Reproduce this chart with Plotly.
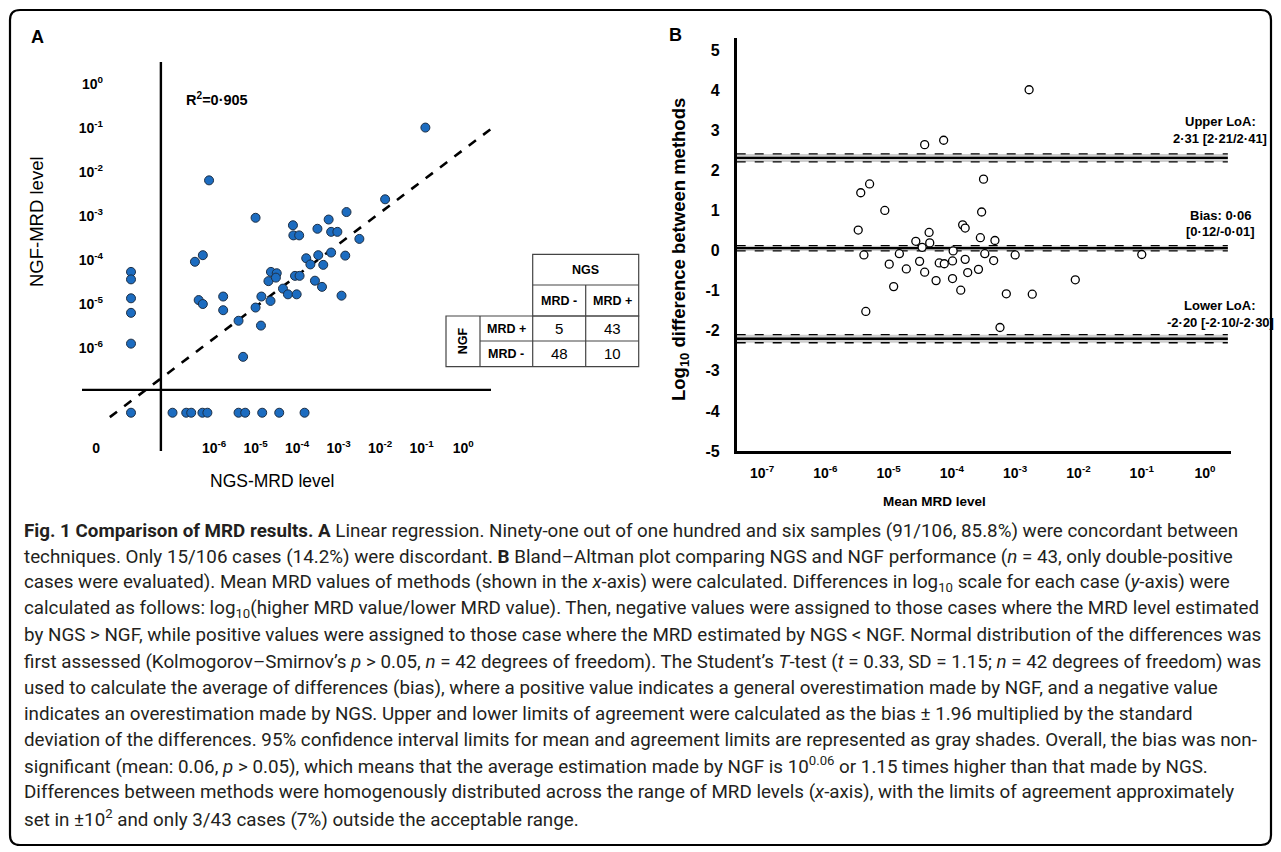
import plotly.graph_objects as go

# The captured picture is squeezed vertically (~0.9895); the figure is made a little
# taller so that, once squeezed, it lands on the 1281x852 layout of the reference.
W = 1281
SY = 852 / 861
H = 861

# ---------------- Panel A data (log10 MRD level; None = MRD negative, plotted in the "0" lane)
A_ngs_log = [-6.12, -5.00, -4.10, -4.09, -3.95, -3.51, -3.24, -3.18, -3.03, -0.91,
             -1.88, -2.81, -2.50, -6.46, -6.27, -6.37, -6.27, -5.78, -5.78, -5.41,
             -5.30, -5.00, -4.87, -4.86, -4.64, -4.69, -4.63, -4.49, -4.51, -4.34,
             -4.22, -4.01, -4.05, -3.94, -3.78, -3.68, -3.49, -3.57, -3.40, -3.37,
             -3.18, -2.84, -2.93,
             None, None, None, None, None,
             -7.00, -6.67, -6.55, -6.28, -6.16, -5.41, -5.25, -4.84, -4.43, -3.82,
             None]
A_ngf_log = [-2.19, -3.04, -3.21, -3.44, -3.44, -3.29, -3.08, -3.36, -3.36, -0.99,
             -2.62, -2.91, -3.52, -4.04, -3.89, -4.91, -5.00, -4.83, -5.14, -5.38,
             -6.20, -5.08, -5.49, -4.83, -4.93, -4.48, -4.27, -4.30, -4.40, -4.65,
             -4.78, -4.78, -4.36, -4.36, -3.96, -4.10, -3.89, -4.47, -4.61, -4.11,
             -3.83, -3.90, -4.81,
             -4.27, -4.44, -4.87, -5.20, -5.90,
             None, None, None, None, None, None, None, None, None, None,
             None]
A_fit_x = [-8.51, 0.67]
A_fit_y = [-7.57, -1.02]
A_r2 = "0·905"
A_x_tick_exps = [None, -6, -5, -4, -3, -2, -1, 0]
A_y_tick_exps = [0, -1, -2, -3, -4, -5, -6]
A_zero_lane_x = -8.0        # where NGS-negative samples sit
A_zero_lane_y = -7.47       # where NGF-negative samples sit
A_zero_label_x = -8.84
A_axis_cross_x = -7.28
A_axis_cross_y = -6.95

table_col_labels = ["MRD -", "MRD +"]
table_row_labels = ["MRD +", "MRD -"]
table_counts = [[5, 43], [48, 10]]

# ---------------- Panel B data (Bland-Altman)
B_mean_log = [-4.43, -4.13, -2.78, -5.44, -5.30, -5.06, -3.50, -3.53, -5.48, -4.36,
              -3.83, -3.79, -3.55, -3.32, -5.39, -4.57, -4.47, -4.35, -4.83, -4.99,
              -4.72, -4.51, -4.43, -4.92, -4.25, -4.20, -4.12, -3.99, -3.98, -3.99,
              -3.86, -5.36, -3.48, -3.00, -1.00, -3.79, -3.34, -3.58, -3.75, -3.14,
              -2.73, -2.05, -3.24]
B_diff = [2.64, 2.75, 4.01, 1.44, 1.66, 1.00, 1.78, 0.96, 0.51, 0.45,
          0.64, 0.56, 0.32, 0.25, -0.11, 0.23, 0.08, 0.19, -0.08, -0.34,
          -0.46, -0.27, -0.54, -0.90, -0.75, -0.31, -0.33, -0.26, -0.01, -0.70,
          -0.99, -1.52, -0.08, -0.11, -0.10, -0.22, -0.25, -0.47, -0.55, -1.08,
          -1.09, -0.73, -1.92]
B_lines = ["Upper LoA", "Bias", "Lower LoA"]
B_est = [2.31, 0.06, -2.20]
B_ci_a = [2.41, 0.12, -2.10]
B_ci_b = [2.21, -0.01, -2.30]
B_label_l1 = ["Upper LoA:", "Bias: 0·06", "Lower LoA:"]
B_label_l2 = ["2·31 [2·21/2·41]", "[0·12/-0·01]", "-2·20 [-2·10/-2·30]"]
B_x_tick_exps = [-7, -6, -5, -4, -3, -2, -1, 0]
B_y_ticks = [5, 4, 3, 2, 1, 0, -1, -2, -3, -4, -5]
B_line_x = [-7.40, 0.36]

caption_lines = [
    "<b>Fig. 1 Comparison of MRD results. A</b> Linear regression. Ninety-one out of one hundred and six samples (91/106, 85.8%) were concordant between",
    "techniques. Only 15/106 cases (14.2%) were discordant. <b>B</b> Bland–Altman plot comparing NGS and NGF performance (<i>n</i> = 43, only double-positive",
    "cases were evaluated). Mean MRD values of methods (shown in the <i>x</i>-axis) were calculated. Differences in log<sub>10</sub> scale for each case (<i>y</i>-axis) were",
    "calculated as follows: log<sub>10</sub>(higher MRD value/lower MRD value). Then, negative values were assigned to those cases where the MRD level estimated",
    "by NGS &gt; NGF, while positive values were assigned to those case where the MRD estimated by NGS &lt; NGF. Normal distribution of the differences was",
    "first assessed (Kolmogorov–Smirnov’s <i>p</i> &gt; 0.05, <i>n</i> = 42 degrees of freedom). The Student’s <i>T</i>-test (<i>t</i> = 0.33, SD = 1.15; <i>n</i> = 42 degrees of freedom) was",
    "used to calculate the average of differences (bias), where a positive value indicates a general overestimation made by NGF, and a negative value",
    "indicates an overestimation made by NGS. Upper and lower limits of agreement were calculated as the bias ± 1.96 multiplied by the standard",
    "deviation of the differences. 95% confidence interval limits for mean and agreement limits are represented as gray shades. Overall, the bias was non-",
    "significant (mean: 0.06, <i>p</i> &gt; 0.05), which means that the average estimation made by NGF is 10<sup>0.06</sup> or 1.15 times higher than that made by NGS.",
    "Differences between methods were homogenously distributed across the range of MRD levels (<i>x</i>-axis), with the limits of agreement approximately",
    "set in ±10<sup>2</sup> and only 3/43 cases (7%) outside the acceptable range.",
]

FONT = "Liberation Sans, Arial, sans-serif"
CAP_FONT = "Roboto, Lato, sans-serif"


def pxx(x):
    return x / W


def pyy(y):
    return 1 - (y / SY) / H


def sup_label(e):
    if e is None:
        return "<b>0</b>"
    return "<b>10<sup>%d</sup></b>" % e


fig = go.Figure()

# ---------- Panel A
ax = [A_zero_lane_x if v is None else v for v in A_ngs_log]
ay = [A_zero_lane_y if v is None else v for v in A_ngf_log]
fig.add_trace(go.Scatter(x=A_fit_x, y=A_fit_y, mode="lines", xaxis="x", yaxis="y",
                         line=dict(color="black", width=2.6, dash="dash"), hoverinfo="skip"))
fig.add_trace(go.Scatter(x=ax, y=ay, mode="markers", xaxis="x", yaxis="y",
                         marker=dict(size=9, color="#1c6cc0", line=dict(color="#1d2f45", width=1))))

# ---------- Panel B
for est, ca, cb in zip(B_est, B_ci_a, B_ci_b):
    lo, hi = min(ca, cb), max(ca, cb)
    fig.add_trace(go.Scatter(x=B_line_x + B_line_x[::-1], y=[lo, lo, hi, hi], fill="toself",
                             fillcolor="#cfcfcf", line=dict(width=0), mode="lines",
                             xaxis="x2", yaxis="y2", hoverinfo="skip"))
    for v in (ca, cb):
        fig.add_trace(go.Scatter(x=B_line_x, y=[v, v], mode="lines", xaxis="x2", yaxis="y2",
                                 line=dict(color="black", width=1.3, dash="dash"), hoverinfo="skip"))
    fig.add_trace(go.Scatter(x=B_line_x, y=[est, est], mode="lines", xaxis="x2", yaxis="y2",
                             line=dict(color="black", width=2.4), hoverinfo="skip"))
fig.add_trace(go.Scatter(x=B_mean_log, y=B_diff, mode="markers", xaxis="x2", yaxis="y2",
                         marker=dict(size=8, color="white", line=dict(color="black", width=1.3))))

fig.update_layout(
    width=W, height=H, margin=dict(l=0, r=0, t=0, b=0),
    paper_bgcolor="white", plot_bgcolor="rgba(0,0,0,0)", showlegend=False,
    font=dict(family=FONT, color="black"),
    xaxis=dict(domain=[pxx(82), pxx(491)], range=[-9.18, 0.67], anchor="free",
               position=pyy(438),
               showgrid=False, zeroline=False, showline=False, ticks="",
               tickvals=[A_zero_label_x if e is None else e for e in A_x_tick_exps],
               ticktext=[sup_label(e) for e in A_x_tick_exps],
               ticklabelstandoff=0, tickfont=dict(size=14, family=FONT)),
    yaxis=dict(domain=[pyy(451), pyy(62)], range=[-8.34, 0.5], anchor="free",
               position=pxx(103),
               showgrid=False, zeroline=False, showline=False, ticks="",
               tickvals=A_y_tick_exps, ticktext=[sup_label(e) for e in A_y_tick_exps],
               ticklabelstandoff=0, tickfont=dict(size=14, family=FONT)),
    xaxis2=dict(domain=[pxx(736.7), pxx(1231)], range=[-7.40, 0.41], anchor="y2",
                showgrid=False, zeroline=False, showline=True, linecolor="black", linewidth=2.5,
                ticks="", tickvals=B_x_tick_exps, ticktext=[sup_label(e) for e in B_x_tick_exps],
                ticklabelstandoff=7, tickfont=dict(size=14, family=FONT)),
    yaxis2=dict(domain=[pyy(451), pyy(38)], range=[-5, 5.3], anchor="x2",
                showgrid=False, zeroline=False, showline=True, linecolor="black", linewidth=2.5,
                ticks="", tickvals=B_y_ticks, ticktext=["<b>%d</b>" % v for v in B_y_ticks],
                ticklabelstandoff=11, tickfont=dict(size=16, family=FONT)),
)

shapes = []
# Panel A crossing axes
shapes.append(dict(type="line", xref="x", yref="y", x0=A_axis_cross_x, x1=A_axis_cross_x,
                   y0=-8.34, y1=0.5, line=dict(color="black", width=2.4)))
shapes.append(dict(type="line", xref="x", yref="y", x0=-9.18, x1=0.67,
                   y0=A_axis_cross_y, y1=A_axis_cross_y, line=dict(color="black", width=2.4)))

# Contingency table (pixel layout)
tc = "#444444"
def rect(x0, y0, x1, y1):
    return dict(type="rect", xref="paper", yref="paper", x0=pxx(x0), x1=pxx(x1),
                y0=pyy(y1), y1=pyy(y0), line=dict(color=tc, width=1.2))
def hline(x0, x1, y):
    return dict(type="line", xref="paper", yref="paper", x0=pxx(x0), x1=pxx(x1),
                y0=pyy(y), y1=pyy(y), line=dict(color=tc, width=1.2))
def vline(x, y0, y1):
    return dict(type="line", xref="paper", yref="paper", x0=pxx(x), x1=pxx(x),
                y0=pyy(y0), y1=pyy(y1), line=dict(color=tc, width=1.2))

tx = [446, 480, 532.7, 585.7, 638.7]
ty = [254.3, 285, 316, 341, 366.7]
shapes.append(rect(tx[2], ty[0], tx[4], ty[2]))
shapes.append(hline(tx[2], tx[4], ty[1]))
shapes.append(vline(tx[3], ty[1], ty[2]))
shapes.append(rect(tx[0], ty[2], tx[4], ty[4]))
shapes.append(vline(tx[1], ty[2], ty[4]))
shapes.append(vline(tx[2], ty[2], ty[4]))
shapes.append(vline(tx[3], ty[2], ty[4]))
shapes.append(hline(tx[1], tx[4], ty[3]))

# Outer rounded frame
x0, y0, x1, y1, r = 10, 10, 1271, 845, 10
X0, X1, Y0, Y1 = pxx(x0), pxx(x1), pyy(y0), pyy(y1)
rx, ry = r / W, (r / SY) / H
path = (f"M {X0+rx},{Y0} L {X1-rx},{Y0} Q {X1},{Y0} {X1},{Y0-ry} "
        f"L {X1},{Y1+ry} Q {X1},{Y1} {X1-rx},{Y1} L {X0+rx},{Y1} Q {X0},{Y1} {X0},{Y1+ry} "
        f"L {X0},{Y0-ry} Q {X0},{Y0} {X0+rx},{Y0} Z")
shapes.append(dict(type="path", xref="paper", yref="paper", path=path,
                   line=dict(color="black", width=2.2)))
fig.update_layout(shapes=shapes)

ann = []
def text(x, y, s, size, anchor="center", angle=0, family=FONT, color="black"):
    ann.append(dict(x=pxx(x), y=pyy(y), xref="paper", yref="paper", text=s, showarrow=False,
                    xanchor=anchor, yanchor="middle", textangle=angle,
                    font=dict(size=size, family=family, color=color)))

text(37, 37, "<b>A</b>", 18)
text(675, 35, "<b>B</b>", 18)
text(184, 99, "<b>R<sup>2</sup>=" + A_r2 + "</b>", 14.5, anchor="left")
text(36, 222, "NGF-MRD level", 18.5, angle=-90)
text(272, 481, "NGS-MRD level", 17.5)
text(680, 250, "<b>Log<sub>10</sub> difference between methods</b>", 18.5, angle=-90)
text(934, 501, "<b>Mean MRD level</b>", 13.5)

# table text
text((tx[2] + tx[4]) / 2, (ty[0] + ty[1]) / 2, "<b>NGS</b>", 12.5)
for j, lab in enumerate(table_col_labels):
    text((tx[2 + j] + tx[3 + j]) / 2, (ty[1] + ty[2]) / 2, "<b>%s</b>" % lab, 12.5)
for i, lab in enumerate(table_row_labels):
    text((tx[1] + tx[2]) / 2, (ty[2 + i] + ty[3 + i]) / 2, "<b>%s</b>" % lab, 12.5)
    for j in range(2):
        text((tx[2 + j] + tx[3 + j]) / 2, (ty[2 + i] + ty[3 + i]) / 2, str(table_counts[i][j]), 15)
text((tx[0] + tx[1]) / 2, (ty[2] + ty[4]) / 2, "<b>NGF</b>", 12.5, angle=-90)

# panel B line labels
for l1, l2, yy in zip(B_label_l1, B_label_l2, [122, 215, 305]):
    text(1220, yy, "<b>%s</b>" % l1, 13)
    text(1220, yy + 17, "<b>%s</b>" % l2, 13)

# caption
for i, line in enumerate(caption_lines):
    text(22, 531 + i * 26.1, line, 18.8, anchor="left", family=CAP_FONT, color="#231f20")

fig.update_layout(annotations=ann)
# remove the browser's default 8px page margin so the figure fills the window exactly
fig.write_html("out.html", config={"displayModeBar": False},
               post_script="document.body.style.margin='0';document.body.style.overflow='hidden';")
